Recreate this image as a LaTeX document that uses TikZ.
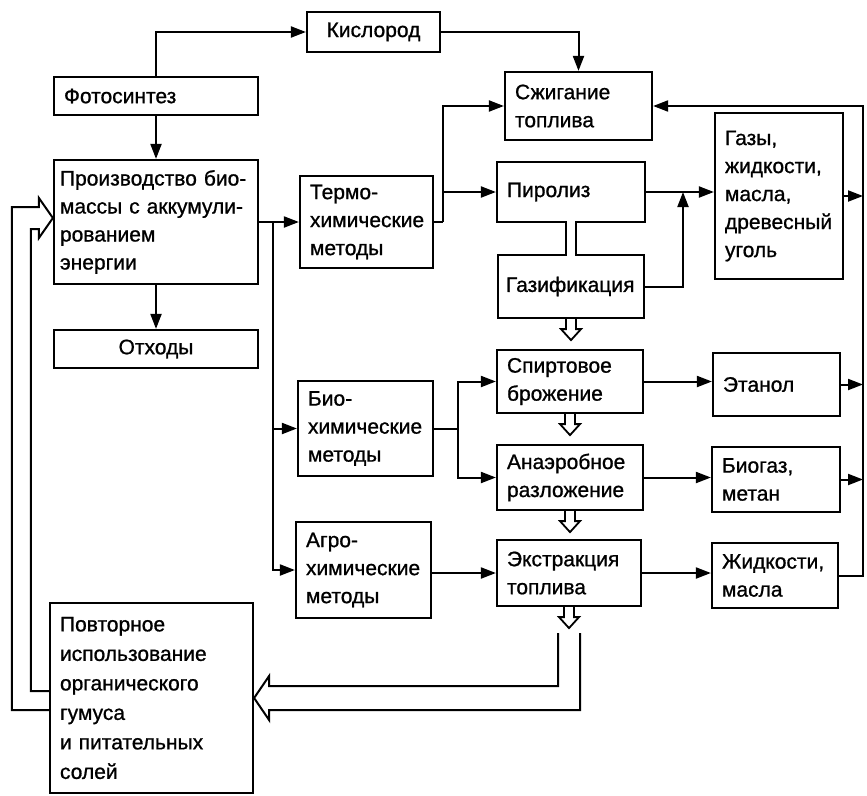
\documentclass[tikz,border=0pt]{standalone}
\usepackage{fontspec}
\newfontfamily\lab{Liberation Sans}[FakeBold=0.9]
\usetikzlibrary{arrows.meta,calc}
\begin{document}
\begin{tikzpicture}[x=1pt,y=-1pt,
 box/.style={draw, line width=2.2pt, inner ysep=0pt, inner xsep=10pt, align=left, font=\lab\fontsize{21}{28}\selectfont},
 ln/.style={line width=2pt},
 arr/.style={line width=2pt, -{Triangle[length=15pt,width=11pt]}},
 hollow/.style={line width=1.8pt},
]
\fill[white] (0,0) rectangle (867,795);
\useasboundingbox (0,0) rectangle (867,795);
\newcommand\hdn[1]{\draw[hollow] ($(#1)+(-5,0)$) -- ++(0,10) -- ++(-5,0) -- ++(10,11) -- ++(10,-11) -- ++(-5,0) -- ++(0,-10);}

% nodes
\node[box, minimum width=133pt, minimum height=40pt, align=center] (kis) at (373.5,32) {Кислород};
\node[box, text width=184pt, minimum height=38pt] (foto) at (156,96) {Фотосинтез};
\node[box, text width=192pt, inner xsep=6pt, minimum height=124pt] (proizv) at (156,222) {\mbox{Производство био-}\\\mbox{массы с аккумули-}\\рованием\\энергии};
\node[box, text width=184pt, minimum height=38pt, align=center] (otx) at (156,349) {Отходы};
\node[box, text width=113pt, minimum height=92pt] (termo) at (366.5,222) {Термо-\\химические\\методы};
\node[box, text width=115pt, minimum height=95pt] (bio) at (365.5,428.5) {Био-\\химические\\методы};
\node[box, text width=115pt, minimum height=96pt] (agro) at (363.5,570) {Агро-\\химические\\методы};
\node[box, text width=183pt, minimum height=190pt, font=\lab\fontsize{21}{29.5}\selectfont] (povt) at (151.5,698) {Повторное\\использование\\органического\\гумуса\\и питательных\\солей};
\node[box, text width=127pt, minimum height=68pt] (szh) at (578.5,106) {Сжигание\\топлива};
\node[box, text width=128pt, minimum height=60pt] (piro) at (571,192) {Пиролиз};
\node[box, text width=130pt, inner xsep=8pt, minimum height=63pt] (gazif) at (571,286.5) {Газификация};
\node[box, text width=108pt, minimum height=166pt] (gazy) at (779,196) {Газы,\\жидкости,\\масла,\\древесный\\уголь};
\node[box, text width=126pt, minimum height=63pt] (spirt) at (570,381.5) {Спиртовое\\брожение};
\node[box, text width=107pt, minimum height=63pt] (etan) at (776.5,384.5) {Этанол};
\node[box, text width=126pt, minimum height=65pt] (anaer) at (570,477.5) {Анаэробное\\разложение};
\node[box, text width=108pt, minimum height=65pt] (biogaz) at (776,479.5) {Биогаз,\\метан};
\node[box, text width=124pt, minimum height=66pt] (ekstr) at (569,573) {Экстракция\\топлива};
\node[box, text width=106pt, minimum height=65pt] (zhid) at (775,575.5) {Жидкости,\\масла};

% coordinates
\coordinate (br1) at (273,222);
\coordinate (br2) at (443,222);
\coordinate (br3) at (458,428.5);
\coordinate (j1) at (683,192);
\coordinate (bus) at (863,106);
\coordinate (dtop) at ($(ekstr.south)+(0,26)$);

% connectors
\draw[arr] (foto.north) |- (kis.west);
\draw[arr] (foto.south) -- (proizv.north);
\draw[arr] (proizv.south) -- (otx.north);
\draw[arr] (kis.east) -| (szh.north);
\draw[arr] (proizv.east) -- (termo.west);
\draw[arr] (br1) |- (agro.west);
\draw[arr] (br1 |- bio.west) -- (bio.west);
\draw[ln] (termo.east) -- (br2);
\draw[arr] (br2) |- (szh.west);
\draw[arr] (br2 |- piro.west) -- (piro.west);
\draw[arr] (piro.east) -- (piro.east -| gazy.west);
\draw[arr] (gazif.east) -| (j1);
\draw[ln] (bio.east) -- (br3);
\draw[arr] (br3) |- (spirt.west);
\draw[arr] (br3) |- (anaer.west);
\draw[arr] (spirt.east) -- (spirt.east -| etan.west);
\draw[arr] (anaer.east) -- (anaer.east -| biogaz.west);
\draw[arr] (ekstr.west -| agro.east) -- (ekstr.west);
\draw[arr] (ekstr.east) -- (ekstr.east -| zhid.west);
\draw[arr] (gazy.east) -- (gazy.east -| bus);
\draw[arr] (etan.east) -- (etan.east -| bus);
\draw[arr] (biogaz.east) -- (biogaz.east -| bus);
\draw[arr] (zhid.east) -| (bus) -- (szh.east);

% pyrolysis - gasification channel
\fill[white] ($(piro.south)+(-4,-2)$) rectangle ($(piro.south)+(4,2)$);
\fill[white] ($(gazif.north)+(-4,-2)$) rectangle ($(gazif.north)+(4,2)$);
\draw[ln] ($(piro.south)+(-5,0)$) -- ($(gazif.north)+(-5,0)$);
\draw[ln] ($(piro.south)+(5,0)$) -- ($(gazif.north)+(5,0)$);

% hollow arrows
\hdn{gazif.south}
\hdn{spirt.south}
\hdn{anaer.south}
\hdn{ekstr.south}

% double-line arrow to recycling box
\draw[ln] ($(dtop)+(-11,0)$) |- ($(povt.east)+(15,-12)$) -- ++(0,-10) -- (povt.east) -- ++(15,22) -- ++(0,-10) -| ($(dtop)+(11,0)$);

% double-line arrow back to biomass production
\draw[ln] ($(povt.west)+(0,-7)$) -| ($(proizv.west)+(-22,7)$) -- ++(8,0) -- ++(0,9) -- ($(proizv.west)+(0,-4)$) -- ++(-14,-20) -- ++(0,9) -- ++(-27,0) |- ($(povt.west)+(0,12)$);
\end{tikzpicture}
\end{document}
